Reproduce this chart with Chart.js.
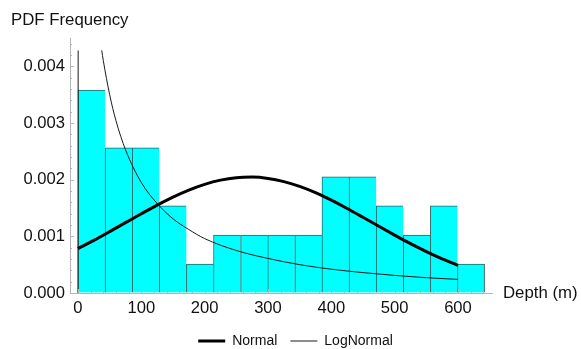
<!DOCTYPE html>
<html>
<head>
<meta charset="utf-8">
<script src="https://cdn.jsdelivr.net/npm/chart.js@4/dist/chart.umd.min.js"></script>
<style>
  html, body { margin: 0; padding: 0; background: #fff; }
  #wrap { width: 581px; height: 349px; }
</style>
</head>
<body>
<div id="wrap"><canvas id="pdfChart" width="581" height="349"></canvas></div>
<script>
// histogram: bin centres (m) and density heights
const binCenters = [21.4, 64.2, 107, 149.8, 192.6, 235.4, 278.2, 321, 363.8, 406.6, 449.4, 492.2, 535, 577.8, 620.6];
const binHeights = [0.00358, 0.00256, 0.00256, 0.00154, 0.00051, 0.00102, 0.00102, 0.00102, 0.00102, 0.00205, 0.00205, 0.00154, 0.00102, 0.00154, 0.00051];

// fitted normal curve
const normalDepth = [0, 25, 50, 75, 100, 125, 150, 175, 200, 225, 250, 275, 300, 325, 350, 375, 400, 425, 450, 475, 500, 525, 550, 575, 600];
const normalPdf = [0.000784, 0.000929, 0.001083, 0.001241, 0.001399, 0.001552, 0.001693, 0.001817, 0.001918, 0.001992, 0.002035, 0.002045, 0.002022, 0.001966, 0.001881, 0.001770, 0.001638, 0.001492, 0.001336, 0.001177, 0.001021, 0.000870, 0.000730, 0.000602, 0.000489];

// fitted lognormal curve (null where it runs off the top of the plot)
const logDepth = [0, 0.3, 20, 37.5, 40, 50, 60, 75, 100, 125, 150, 175, 200, 250, 300, 350, 400, 450, 500, 550, 600];
const logPdf = [0, 0.00428, null, 0.00428, 0.00410, 0.00350, 0.00304, 0.00253, 0.00195, 0.00158, 0.00131, 0.00112, 0.00096, 0.00075, 0.00061, 0.00050, 0.00042, 0.00036, 0.00031, 0.00027, 0.00024];

const xTicks = [0, 100, 200, 300, 400, 500, 600];
const yTicks = [0, 0.001, 0.002, 0.003, 0.004];

const FONT = '"Liberation Sans", Arial, sans-serif';
const AXIS_GRAY = '#b4b4b4';

// small ticks pointing into the plot, like the original
const innerTicks = {
    id: 'innerTicks',
    afterDatasetsDraw(chart) {
        const { ctx, chartArea, scales: { x, y } } = chart;
        ctx.save();
        ctx.strokeStyle = AXIS_GRAY;
        ctx.lineWidth = 1;
        ctx.beginPath();
        for (let i = 0; i <= 32; i++) {
            const px = Math.round(x.getPixelForValue(i * 20)) + 0.5;
            const len = i % 5 === 0 ? 4 : 2;
            ctx.moveTo(px, chartArea.bottom);
            ctx.lineTo(px, chartArea.bottom - len);
        }
        for (let i = 0; i <= 22; i++) {
            const py = Math.round(y.getPixelForValue(i * 0.0002)) + 0.5;
            const len = i % 5 === 0 ? 4 : 2;
            ctx.moveTo(chartArea.left, py);
            ctx.lineTo(chartArea.left + len, py);
        }
        ctx.stroke();
        ctx.restore();
    }
};

// axis captions: top-left for y, right end of the axis for x
const axisCaptions = {
    id: 'axisCaptions',
    afterDraw(chart) {
        const ctx = chart.ctx;
        ctx.save();
        ctx.font = '16.8px ' + FONT;
        ctx.fillStyle = '#111';
        ctx.textBaseline = 'alphabetic';
        ctx.fillText('PDF Frequency', 11, 25);
        ctx.fillText('Depth (m)', chart.chartArea.right + 11, 298);
        ctx.restore();
    }
};

const toPoints = (xs, ys) => xs.map((v, i) => ({ x: v, y: ys[i] }));

new Chart(document.getElementById('pdfChart'), {
    type: 'bar',
    data: {
        datasets: [
            {
                type: 'bar',
                label: 'Histogram',
                data: toPoints(binCenters, binHeights),
                backgroundColor: '#00ffff',
                borderColor: '#2f6262',
                borderWidth: ctx => ({ left: 1, top: 1, right: ctx.dataIndex === binCenters.length - 1 ? 1 : 0, bottom: 0 }),
                borderSkipped: false,
                barPercentage: 1,
                categoryPercentage: 1,
                order: 2
            },
            {
                type: 'line',
                label: 'Normal',
                data: toPoints(normalDepth, normalPdf),
                borderColor: '#000',
                borderWidth: 3,
                pointRadius: 0,
                cubicInterpolationMode: 'monotone',
                fill: false,
                order: 0
            },
            {
                type: 'line',
                label: 'LogNormal',
                data: toPoints(logDepth, logPdf),
                borderColor: '#1a1a1a',
                borderWidth: 1,
                pointRadius: 0,
                cubicInterpolationMode: 'monotone',
                spanGaps: false,
                fill: false,
                order: 1
            }
        ]
    },
    options: {
        responsive: false,
        animation: false,
        devicePixelRatio: 1,
        layout: { padding: { left: 10, right: 0, top: 38, bottom: -9 } },
        scales: {
            x: {
                type: 'linear',
                min: -12.6,
                max: 653.7,
                offset: false,
                afterBuildTicks: s => { s.ticks = xTicks.map(v => ({ value: v })); },
                afterFit: s => { s.height = 28; },
                ticks: {
                    color: '#111',
                    font: { family: FONT, size: 16.6 },
                    padding: 5,
                    maxRotation: 0,
                    callback: v => String(v)
                },
                grid: { drawOnChartArea: false, drawTicks: false, color: AXIS_GRAY },
                border: { color: AXIS_GRAY, width: 1 }
            },
            y: {
                min: 0,
                max: 0.0045,
                afterBuildTicks: s => { s.ticks = yTicks.map(v => ({ value: v })); },
                afterFit: s => { s.width = 60; },
                ticks: {
                    color: '#111',
                    font: { family: FONT, size: 16.6 },
                    padding: 5,
                    callback: v => v.toFixed(3)
                },
                grid: { drawOnChartArea: false, drawTicks: false, color: AXIS_GRAY },
                border: { color: AXIS_GRAY, width: 1 }
            },
            // empty right axis, only keeps room for the "Depth (m)" caption
            yRight: {
                position: 'right',
                afterFit: s => { s.width = 89; },
                ticks: { display: false },
                grid: { display: false },
                border: { display: false }
            }
        },
        plugins: {
            tooltip: { enabled: false },
            legend: {
                position: 'bottom',
                labels: {
                    filter: item => item.text !== 'Histogram',
                    usePointStyle: true,
                    pointStyle: 'line',
                    pointStyleWidth: 27,
                    padding: 13,
                    color: '#111',
                    font: { family: FONT, size: 14 }
                }
            }
        }
    },
    plugins: [innerTicks, axisCaptions]
});
</script>
</body>
</html>
